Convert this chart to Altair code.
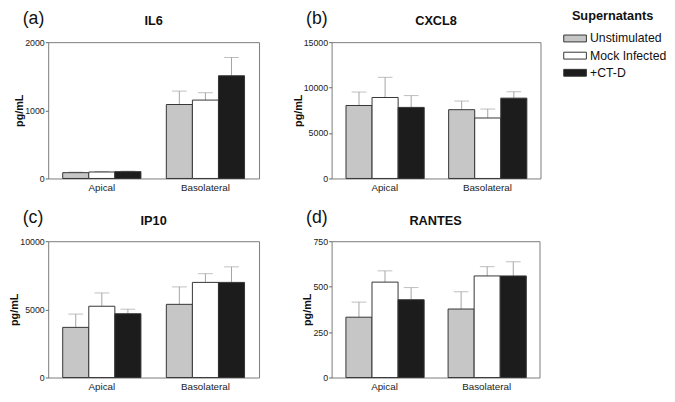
import altair as alt
import pandas as pd

FONT = "Liberation Sans"

locations = ["Apical", "Basolateral"]
groups = ["Unstimulated", "Mock Infected", "+CT-D"]
group_colors = ["#c6c6c6", "#ffffff", "#1c1c1c"]

# IL6 (a)
il6_apical = [85, 95, 100]
il6_apical_err = [8, 8, 8]
il6_baso = [1085, 1150, 1507]
il6_baso_err = [197, 108, 268]
il6_ticks = [0, 1000, 2000]

# CXCL8 (b)
cxcl8_apical = [8030, 8910, 7820]
cxcl8_apical_err = [1480, 2220, 1300]
cxcl8_baso = [7570, 6655, 8840]
cxcl8_baso_err = [950, 985, 700]
cxcl8_ticks = [0, 5000, 10000, 15000]

# IP10 (c)
ip10_apical = [3680, 5230, 4680]
ip10_apical_err = [975, 975, 335]
ip10_baso = [5370, 6980, 6980]
ip10_baso_err = [1280, 640, 1140]
ip10_ticks = [0, 2500, 5000, 7500, 10000]

# RANTES (d)
rantes_apical = [332, 525, 428]
rantes_apical_err = [83, 62, 67]
rantes_baso = [377, 559, 559]
rantes_baso_err = [95, 51, 78]
rantes_ticks = [0, 250, 500, 750]

H = 139


def panel(name, letter, apical, apical_err, baso, baso_err, ticks, width):
    rows = []
    for loc, means, errs in (("Apical", apical, apical_err), ("Basolateral", baso, baso_err)):
        for g, m, e in zip(groups, means, errs):
            rows.append({"loc": loc, "group": g, "mean": m, "upper": m + e})
    df = pd.DataFrame(rows)
    base = alt.Chart(df)

    x = alt.X("loc:N", sort=locations, title=None,
              scale=alt.Scale(paddingInner=0.245, paddingOuter=0.14),
              axis=alt.Axis(labelAngle=0, ticks=False, domain=False, labelFontSize=10,
                            labelPadding=4, labelColor="#222"))
    xo = alt.XOffset("group:N", sort=groups,
                     scale=alt.Scale(domain=groups, paddingInner=0, paddingOuter=0))
    yscale = alt.Scale(domain=[0, ticks[-1]], nice=False)
    y = alt.Y("mean:Q", scale=yscale,
              axis=alt.Axis(values=ticks, title="pg/mL", titleFontSize=11, titleFontWeight="bold",
                            titleColor="#111", titlePadding=0, labelFontSize=9, labelColor="#222",
                            labelPadding=1, tickSize=3, tickColor="#666", domain=False,
                            grid=False, format="d"))
    color = alt.Color("group:N", sort=groups,
                      scale=alt.Scale(domain=groups, range=group_colors),
                      legend=alt.Legend(title="Supernatants", orient="none",
                                        legendX=534, legendY=-33))

    err = base.mark_rule(color="#a3a3a3", strokeWidth=1).encode(
        x=x, xOffset=xo, y=alt.Y("mean:Q", scale=yscale), y2="upper:Q")
    caps = base.mark_tick(color="#a3a3a3", size=15, thickness=1).encode(
        x=x, xOffset=xo, y=alt.Y("upper:Q", scale=yscale))
    bars = base.mark_bar(stroke="#333333", strokeWidth=1).encode(
        x=x, xOffset=xo, y=y, color=color)
    lab = alt.Chart(pd.DataFrame({"t": [letter]})).mark_text(
        align="left", baseline="top", fontSize=18, color="#111", font=FONT
    ).encode(x=alt.value(-26), y=alt.value(-33), text="t:N")
    ttl = alt.Chart(pd.DataFrame({"t": [name]})).mark_text(
        align="center", baseline="alphabetic", fontSize=13, fontWeight="bold",
        color="#111", font=FONT
    ).encode(x=alt.value(width / 2), y=alt.value(-17), text="t:N")

    return alt.layer(err, caps, bars, lab, ttl).properties(width=width, height=H)


pa = panel("IL6", "(a)", il6_apical, il6_apical_err, il6_baso, il6_baso_err, il6_ticks, 215)
pb = panel("CXCL8", "(b)", cxcl8_apical, cxcl8_apical_err, cxcl8_baso, cxcl8_baso_err, cxcl8_ticks, 213)
pc = panel("IP10", "(c)", ip10_apical, ip10_apical_err, ip10_baso, ip10_baso_err, ip10_ticks, 215)
pd_ = panel("RANTES", "(d)", rantes_apical, rantes_apical_err, rantes_baso, rantes_baso_err, rantes_ticks, 212)

chart = alt.concat(pa, pb, pc, pd_, columns=2, bounds="flush",
                   spacing=alt.RowColnumber(row=64, column=74)).resolve_scale(color="shared").properties(
    padding={"left": 0, "top": -3, "right": 0, "bottom": 0}
).configure(font=FONT).configure_view(
    stroke="#7a7a7a", strokeWidth=1
).configure_legend(
    titleFontSize=13, titleFontWeight="bold", titleColor="#111", titlePadding=10,
    labelFontSize=12.5, labelColor="#111", labelOffset=9, padding=0,
    symbolType="M-3.3,-1L3.3,-1L3.3,1L-3.3,1Z", symbolSize=49,
    symbolStrokeColor="#333333", symbolStrokeWidth=1, symbolOffset=-3,
    rowPadding=4.5
)

chart.save("out.html", embed_options={"renderer": "svg", "actions": False})
